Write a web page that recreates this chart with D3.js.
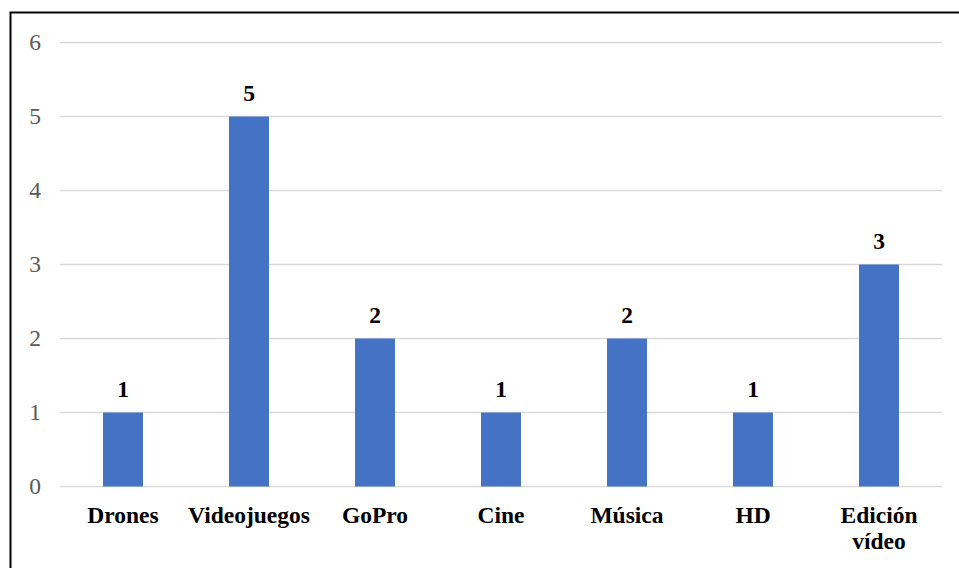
<!DOCTYPE html>
<html><head><meta charset="utf-8">
<script src="https://cdn.jsdelivr.net/npm/d3@7"></script>
<style>body{margin:0;background:#fff;}</style>
</head><body>
<svg id="c" width="959" height="568"></svg>
<script>
const categories = ["Drones","Videojuegos","GoPro","Cine","Música","HD","Edición vídeo"];
const values = [1,5,2,1,2,1,3];
const yTicks = [0,1,2,3,4,5,6];

const font = '"Liberation Serif","Times New Roman",Tinos,serif';
const svg = d3.select("#c");
svg.append("rect").attr("x",10.5).attr("y",12.5).attr("width",960).attr("height",570)
  .attr("fill","#fff").attr("stroke","#000").attr("stroke-width",2);

const x = d3.scaleBand().domain(categories).range([60,942]).paddingInner(0.683).paddingOuter(0.3415);
const y = d3.scaleLinear().domain([0,6]).range([486.5,42.5]);

const g = svg.append("g");
g.selectAll("line.grid").data(yTicks).join("line").attr("class","grid")
  .attr("x1",60).attr("x2",942).attr("y1",d=>y(d)).attr("y2",d=>y(d))
  .attr("stroke","#d9d9d9").attr("stroke-width",1.5);

g.selectAll("text.yt").data(yTicks).join("text").attr("class","yt")
  .attr("x",35).attr("y",d=>y(d)+7).attr("text-anchor","middle")
  .style("font-family",font).attr("font-size",23.5).attr("fill","#595959").text(d=>d);

g.selectAll("rect.bar").data(values).join("rect").attr("class","bar")
  .attr("x",(d,i)=>x(categories[i])).attr("width",x.bandwidth())
  .attr("y",d=>y(d)).attr("height",d=>y(0)-y(d)).attr("fill","#4472c4");

g.selectAll("text.lbl").data(values).join("text").attr("class","lbl")
  .attr("x",(d,i)=>x(categories[i])+x.bandwidth()/2).attr("y",d=>y(d)-16)
  .attr("text-anchor","middle").style("font-family",font).attr("font-weight","bold")
  .attr("font-size",23.5).attr("fill","#000").text(d=>d);

const cat = g.selectAll("text.cat").data(categories).join("text").attr("class","cat")
  .attr("x",d=>x(d)+x.bandwidth()/2).attr("y",523)
  .attr("text-anchor","middle").style("font-family",font).attr("font-weight","bold")
  .attr("font-size",23.5).attr("fill","#000");
cat.each(function(d){
  const words = d==="Edición vídeo" ? ["Edición","vídeo"] : [d];
  const t = d3.select(this);
  words.forEach((w,i)=>t.append("tspan").attr("x",t.attr("x")).attr("dy",i?26:0).text(w));
});
</script>
</body></html>
